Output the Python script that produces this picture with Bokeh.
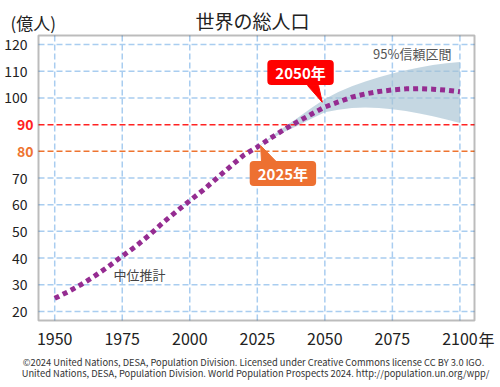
from bokeh.plotting import figure
from bokeh.models import Label, FixedTicker, Range1d, LinearAxis, BoxAnnotation
from bokeh.embed import file_html
from bokeh.resources import INLINE

# ---- data (億人) ----
years = [1950, 1955, 1960, 1965, 1970, 1975, 1980, 1985, 1990, 1995, 2000,
         2005, 2010, 2015, 2020, 2025, 2030, 2035, 2040, 2045, 2050,
         2055, 2060, 2065, 2070, 2075, 2080, 2085, 2090, 2095, 2100]
median = [24.9, 27.4, 30.2, 33.4, 36.9, 40.7, 44.4, 48.6, 53.2, 57.4, 61.5,
          65.5, 69.9, 74.3, 78.6, 81.6, 85.0, 88.2, 91.1, 93.9, 96.6,
          98.5, 100.3, 101.5, 102.4, 103.0, 103.4, 103.5, 103.3, 102.9, 102.3]
band_years = [2025, 2030, 2035, 2040, 2045, 2050, 2055, 2060, 2065, 2070,
              2075, 2080, 2085, 2090, 2095, 2100]
band_lower = [81.6, 84.6, 87.3, 89.6, 92.2, 94.6, 95.6, 96.2, 96.4, 96.2,
              95.8, 95.1, 94.2, 93.1, 91.9, 90.6]
band_upper = [81.6, 85.4, 89.1, 92.6, 96.2, 99.6, 102.2, 104.4, 106.2, 107.8,
              109.2, 110.4, 111.4, 112.3, 113.0, 113.5]
x_ticks = [1950, 1975, 2000, 2025, 2050, 2075, 2100]
y_ticks = [20, 30, 40, 50, 60, 70, 80, 90, 100, 110, 120]
ref_lines = [90, 80]
ref_colors = ["#ff2222", "#ee7430"]
callout_years = [2050, 2025]
callout_texts = ["2050年", "2025年"]
callout_colors = ["#ff0000", "#ed7031"]

FONT = "Noto Sans CJK JP"

# ---- geometry ----
W, H = 500, 387
X0, X1 = 1944.0, 2105.4          # plotting area data limits
Y0, Y1 = 16.6, 123.4
FL, FT, FW, FH = 38, 35, 436, 285  # plotting area in canvas pixels
PX = FW / (X1 - X0)
PY = FH / (Y1 - Y0)
# full canvas ranges
xr = Range1d(X0 - FL / PX, X0 + (W - FL) / PX)
yr = Range1d(Y1 - (H - FT) / PY, Y1 + FT / PY)

p = figure(width=W, height=H, output_backend="svg", toolbar_location=None,
           x_range=xr, y_range=yr, x_axis_location=None, y_axis_location=None,
           min_border=0)
p.background_fill_color = "white"
p.border_fill_color = "white"
p.outline_line_color = None
p.grid.visible = False

# grid lines
grid_color = "#a9cdf0"
p.segment(x0=x_ticks, y0=[Y0] * len(x_ticks), x1=x_ticks, y1=[Y1] * len(x_ticks),
          line_color=grid_color, line_dash="6 3", line_width=1.5, level="underlay")
hy = [t for t in y_ticks if t not in ref_lines]
p.segment(x0=[X0] * len(hy), y0=hy, x1=[X1] * len(hy), y1=hy,
          line_color=grid_color, line_dash="6 3", line_width=1.5, level="underlay")

# axes
xaxis = LinearAxis(fixed_location=Y0, ticker=FixedTicker(ticks=x_ticks))
yaxis = LinearAxis(fixed_location=X0, ticker=FixedTicker(ticks=y_ticks))
yaxis.major_label_overrides = {r: "" for r in ref_lines}
for ax in (xaxis, yaxis):
    ax.axis_line_color = None
    ax.major_tick_line_color = None
    ax.minor_tick_line_color = None
    ax.major_label_text_font = FONT
    ax.major_label_text_color = "#222222"
xaxis.major_label_text_font_size = "16px"
yaxis.major_label_text_font_size = "14px"
yaxis.major_label_standoff = 5
xaxis.major_label_standoff = 6
p.add_layout(xaxis, "below")
p.add_layout(yaxis, "left")

# band
p.varea(x=band_years, y1=band_lower, y2=band_upper, fill_color="#a6c2d3",
        fill_alpha=0.65)

# texts in canvas pixels
def txt(px, py, s, size, align="left", color="#222222", style="normal"):
    p.add_layout(Label(x=px, y=py, x_units="canvas", y_units="canvas",
                       text=s, text_align=align, text_baseline="middle",
                       text_font=FONT, text_font_size=size,
                       text_color=color, text_font_style=style))

# reference lines
for v, c in zip(ref_lines, ref_colors):
    p.segment(x0=[X0], y0=[v], x1=[X1], y1=[v], line_color=c,
              line_dash="6 3", line_width=1.5)
    p.add_layout(Label(x=X0, y=v, x_offset=-5, text=str(v), text_align="right",
                       text_baseline="middle", text_font=FONT,
                       text_font_size="14px", text_font_style="bold",
                       text_color=c))

# median line
p.line(years, median, line_color="#952c91", line_width=5, line_dash="5 4")

# frame outline
p.add_layout(BoxAnnotation(left=X0, right=X1, bottom=Y0, top=Y1, fill_alpha=0,
                           line_color="#222222", line_width=2))

# callouts
med = dict(zip(years, median))
box_off = [(-24.3, -34.5), (25.6, 26.5)]
tails = [[(-2.6, -4.8), (-17.3, -21.5), (-6.3, -21.5)],
         [(3.3, -1.5), (4.3, 16.0), (20.3, 16.0)]]
for yr_, t, col, bo, tl in zip(callout_years, callout_texts, callout_colors,
                               box_off, tails):
    v = med[yr_]
    xs = [yr_ + ox / PX for ox, oy in tl]
    ys = [v - oy / PY for ox, oy in tl]
    p.patch(xs, ys, fill_color=col, line_color=col, line_width=1)
    p.add_layout(Label(x=yr_ + bo[0] / PX, y=v - bo[1] / PY, text=t,
                       text_align="center", text_baseline="middle",
                       text_font=FONT, text_font_size="15px",
                       text_font_style="bold", text_color="white",
                       background_fill_color=col, border_radius=4,
                       padding=dict(left=8, right=8, top=2, bottom=2)))

txt(252, 19.5, "世界の総人口", "19px", align="center")
txt(10, 21.5, "(億人)", "17px")
txt(451, 53, "95%信頼区間", "13px", align="right", color="#555555")
txt(113, 274, "中位推計", "13px", color="#444444")
txt(478, 338.3, "年", "16px")
txt(253, 361.7,
    "©2024 United Nations, DESA, Population Division. Licensed under Creative Commons license CC BY 3.0 IGO.",
    "9.3px", align="center", color="#333333")
txt(255, 372.3,
    "United Nations, DESA, Population Division. World Population Prospects 2024. http://population.un.org/wpp/",
    "9.3px", align="center", color="#333333")

open("out.html", "w").write(file_html(p, INLINE))
